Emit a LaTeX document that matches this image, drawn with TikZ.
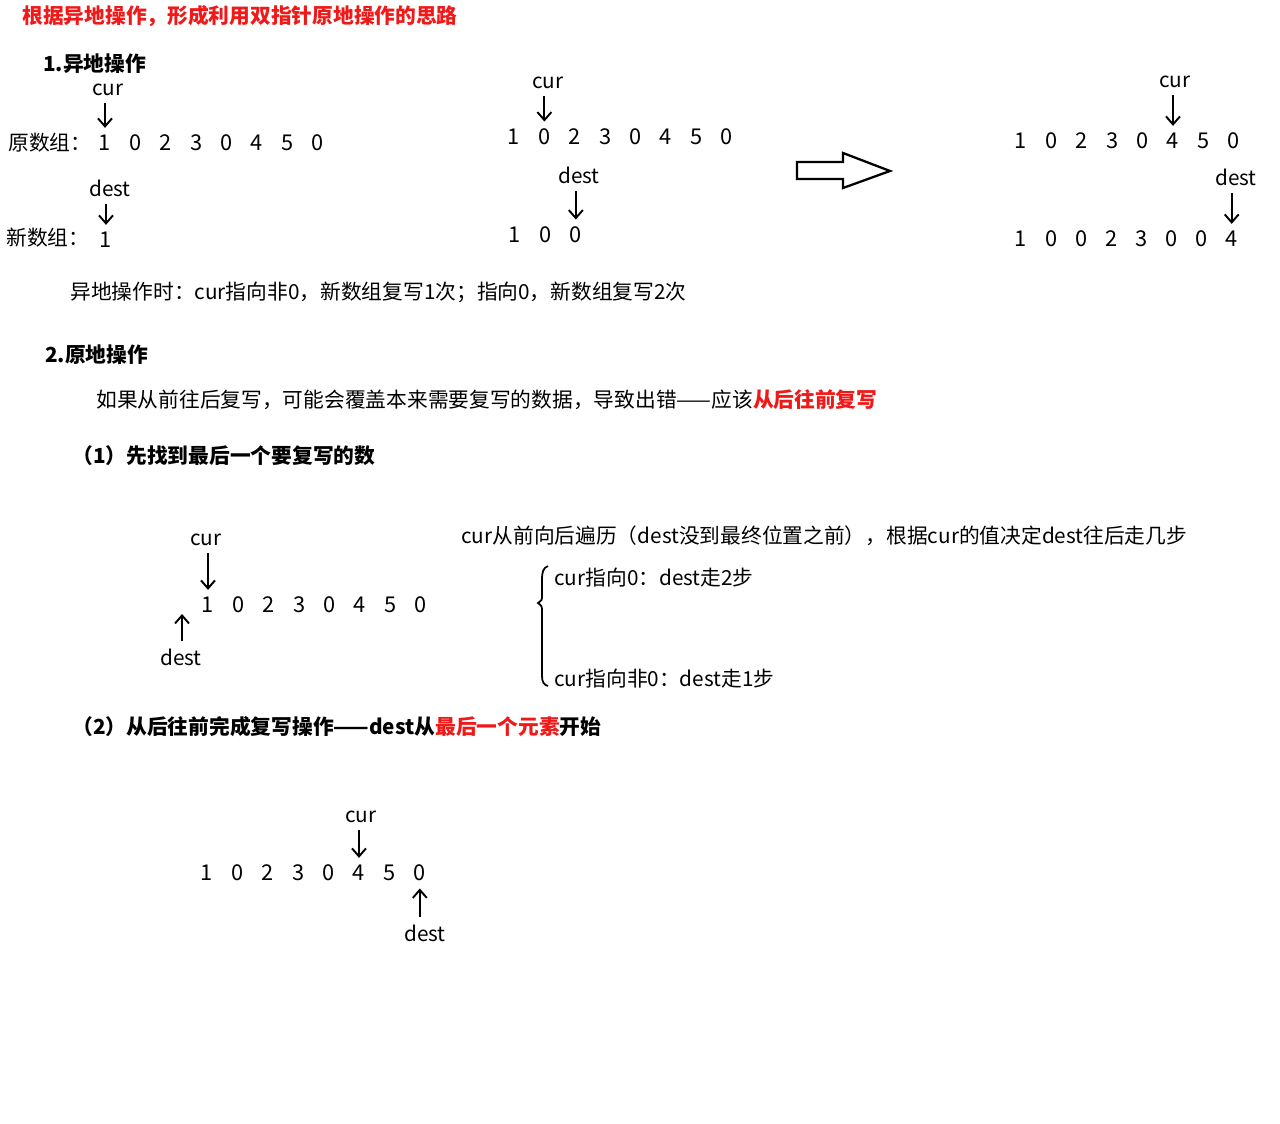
\documentclass[tikz,border=0pt]{standalone}
\usepackage{fontspec}
\setmainfont{Noto Sans CJK SC}
\usepackage{tikz}
\usetikzlibrary{arrows.meta, positioning}
\usepackage{xcolor}
\definecolor{hl}{RGB}{240,25,25}

\begin{document}
\begin{tikzpicture}[
  x=0.02cm, y=-0.02cm,
  every node/.style={inner sep=0pt, font=\fontsize{11.8pt}{14pt}\selectfont},
  txt/.style={anchor=west},
  head/.style={anchor=west, font=\fontsize{11.8pt}{14pt}\selectfont\bfseries},
  num/.style={anchor=center, font=\fontsize{12.4pt}{14pt}\selectfont},
  ptr/.style={line width=1.1pt, -{Straight Barb[length=1.6mm, width=2.8mm]}, shorten <=4pt, shorten >=4pt}
]
\useasboundingbox (0,0) rectangle (1280,1124);

% Title
\node[head, text=hl] (title) at (22,16) {根据异地操作，形成利用双指针原地操作的思路};

% 1. out-of-place
\node[head] (sec1) at (43,64) {1.异地操作};
\node[txt] (oldlbl) at (8,143) {原数组：};
\foreach \v [count=\i] in {1,0,2,3,0,4,5,0}
  \node[num] (oa\i) at ({105+30.4*(\i-1)},143) {\v};
\node[txt] (newlbl) at (6,238) {新数组：};
\node[num] (na1) at (106,240) {1};
\node (curA) at (108,90) {cur};
\node (destA) at (110,188) {dest};
\draw[ptr] (curA.south -| oa1) -- (oa1.north);
\draw[ptr] (destA.south -| na1) -- (na1.north);

% middle step
\foreach \v [count=\i] in {1,0,2,3,0,4,5,0}
  \node[num] (ob\i) at ({514+30.4*(\i-1)},137) {\v};
\foreach \v [count=\i] in {1,0,0}
  \node[num] (nb\i) at ({515+30.4*(\i-1)},235) {\v};
\node (curB) at (548,83) {cur};
\node (destB) at (579,175) {dest};
\draw[ptr] (curB.south -| ob2) -- (ob2.north);
\draw[ptr] (destB.south -| nb3) -- (nb3.north);

% big hollow arrow
\draw[line width=1.3pt, line join=miter] (797,162) -- (843,162) -- (843,153) -- (890,171)
  -- (843,188) -- (843,179) -- (797,179) -- cycle;

% final step
\foreach \v [count=\i] in {1,0,2,3,0,4,5,0}
  \node[num] (oc\i) at ({1021+30.4*(\i-1)},141) {\v};
\foreach \v [count=\i] in {1,0,0,2,3,0,0,4}
  \node[num] (nc\i) at ({1021+30.1*(\i-1)},239) {\v};
\node (curC) at (1175,82) {cur};
\node (destC) at (1236,177) {dest};
\draw[ptr] (curC.south -| oc6) -- (oc6.north);
\draw[ptr] (destC.south -| nc8) -- (nc8.north);

\node[txt] (rule1) at (70,292) {异地操作时：cur指向非0，新数组复写1次；指向0，新数组复写2次};

% 2. in-place
\node[head] (sec2) at (45,355) {2.原地操作};
\node[txt] (warn) at (96,400) {如果从前往后复写，可能会覆盖本来需要复写的数据，导致出错——应该{\bfseries\color{hl}从后往前复写}};
\node[head] (step1) at (72,456) {（1）先找到最后一个要复写的数};

\foreach \v [count=\i] in {1,0,2,3,0,4,5,0}
  \node[num] (od\i) at ({208+30.4*(\i-1)},605) {\v};
\node (curD) at (206,540) {cur};
\node (destD) at (181,657) {dest};
\coordinate (startD) at (182,614);
\draw[ptr] (curD.south -| od1) -- (od1.north);
\draw[ptr, shorten >=0pt] (destD.north -| startD) -- (startD);

\node[txt] (walk) at (461,536) {cur从前向后遍历（dest没到最终位置之前），根据cur的值决定dest往后走几步};
\node[txt] (zero) at (554,578) {cur指向0：dest走2步};
\node[txt] (nonzero) at (554,679) {cur指向非0：dest走1步};
% brace
\draw[line width=1pt] (548,566) .. controls (543,568) and (542,572) .. (542,580)
  -- (542,596) .. controls (542,600) .. (538,603) .. controls (542,606) .. (542,612)
  -- (542,676) .. controls (542,682) and (544,685) .. (548,686);

\node[head] (step2) at (72,727) {（2）从后往前完成复写操作——dest从{\color{hl}最后一个元素}开始};

\foreach \v [count=\i] in {1,0,2,3,0,4,5,0}
  \node[num] (oe\i) at ({207+30.4*(\i-1)},873) {\v};
\node (curE) at (361,817) {cur};
\node (destE) at (425,933) {dest};
\draw[ptr] (curE.south -| oe6) -- (oe6.north);
\draw[ptr] (destE.north -| oe8) -- (oe8.south);

\end{tikzpicture}
\end{document}
